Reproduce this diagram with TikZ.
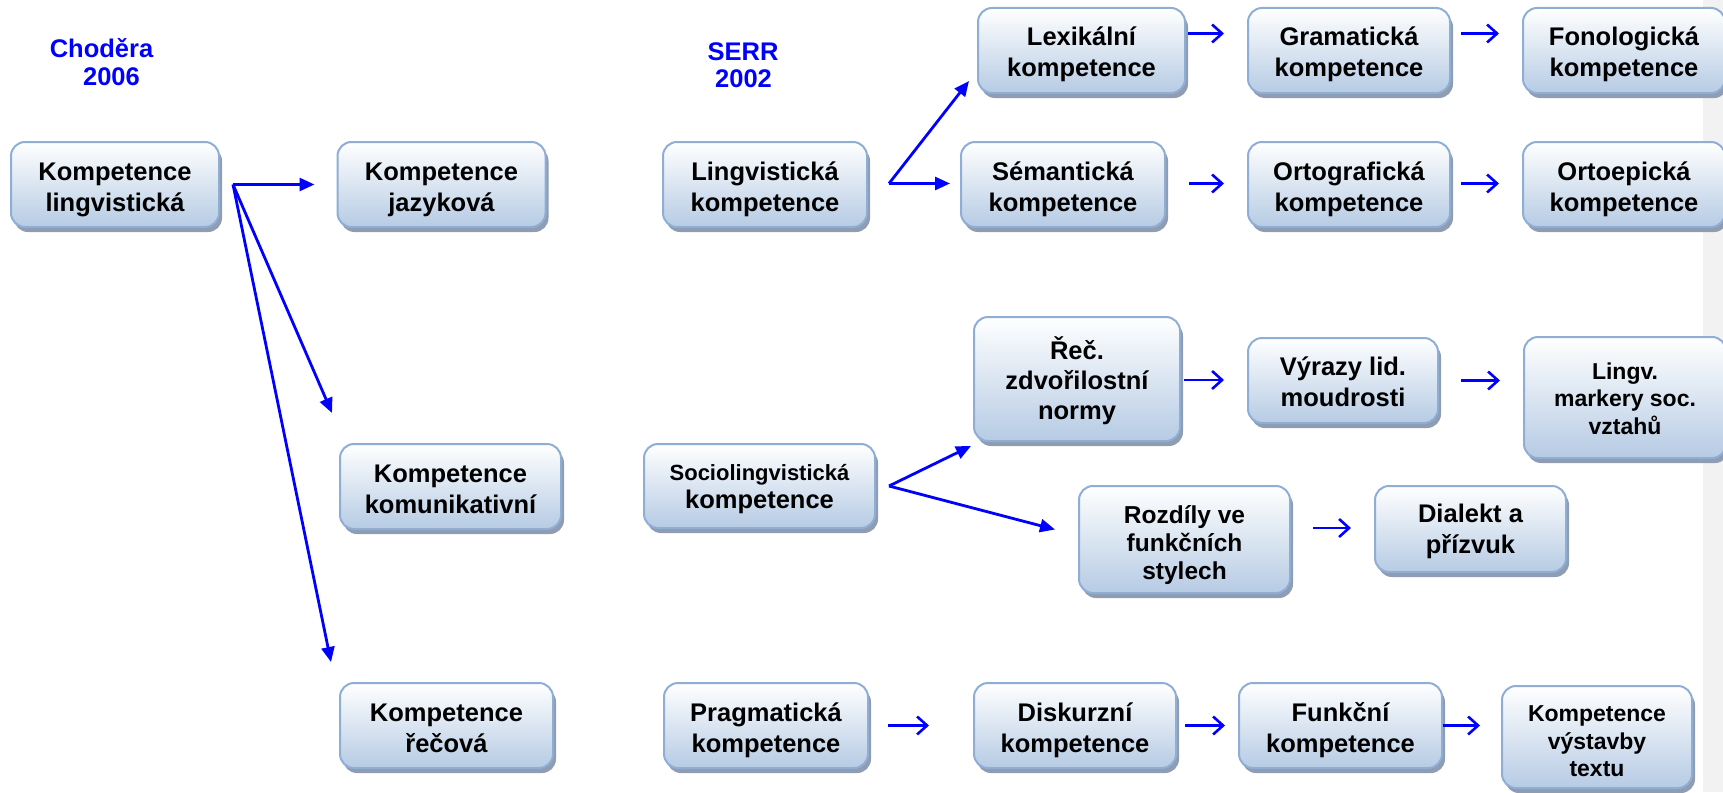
\documentclass[tikz,border=0pt]{standalone}
\usepackage{fontspec}
\setmainfont{Liberation Sans}
\usetikzlibrary{shadows,arrows.meta,calc}
\definecolor{boxedge}{HTML}{8EAED6}
\definecolor{boxfill}{HTML}{B6CBE4}
\definecolor{boxshade}{HTML}{8F9CB1}
\definecolor{arrowblue}{HTML}{0000FF}
\definecolor{stripgray}{HTML}{F2F2F2}

\begin{document}
\begin{tikzpicture}[x=1pt,y=-1pt,
  % text height/depth fixed so that every label sits at the same baseline offset
  box/.style={rectangle, rounded corners=14pt, draw=boxedge, line width=2pt,
    top color=white, bottom color=boxfill,
    drop shadow={shadow xshift=3pt, shadow yshift=-5pt, fill=boxshade, opacity=1},
    align=center, inner sep=0pt, text=black, text height=53pt, text depth=0pt,
    font=\fontsize{25.5}{31}\selectfont\bfseries},
  heading/.style={font=\fontsize{25.5}{31}\selectfont\bfseries, text=arrowblue,
    inner sep=0pt, anchor=base},
  branch/.style={draw=arrowblue, line width=2.8pt, -{Triangle[length=15pt,width=13pt]}},
  chain/.style={draw=arrowblue, line width=2.6pt, -{Straight Barb[length=10pt,width=18pt]}},
]
\useasboundingbox (0,0) rectangle (1723,792);
\fill[stripgray] (1703,0) rectangle (1723,792);

% column headings
\node[heading] (choA) at (101.5,57) {Choděra};
\node[heading] (choB) at (111.5,85) {2006};
\node[heading] (serrA) at (743,60) {SERR};
\node[heading] (serrB) at (743.5,87) {2002};

% Choděra 2006
\node[box, minimum width=208pt, minimum height=85pt] (A) at (115,184.5) {Kompetence\\lingvistická};
\node[box, minimum width=208pt, minimum height=85pt] (B) at (441.5,184.5) {Kompetence\\jazyková};
\node[box, minimum width=221pt, minimum height=85pt] (C) at (450.5,486.5) {Kompetence\\komunikativní};
\node[box, minimum width=213pt, minimum height=85pt] (D) at (446.5,725.5) {Kompetence\\řečová};

% SERR 2002: linguistic branch
\node[box, minimum width=204pt, minimum height=85pt] (E) at (765,184.5) {Lingvistická\\kompetence};
\node[box, minimum width=207pt, minimum height=85pt] (F) at (1081.5,50.5) {Lexikální\\kompetence};
\node[box, minimum width=202pt, minimum height=85pt] (G) at (1349,50.5) {Gramatická\\kompetence};
\node[box, minimum width=202pt, minimum height=85pt] (H) at (1624,50.5) {Fonologická\\kompetence};
\node[box, minimum width=204pt, minimum height=85pt] (I) at (1063,184.5) {Sémantická\\kompetence};
\node[box, minimum width=202pt, minimum height=85pt] (J) at (1349,184.5) {Ortografická\\kompetence};
\node[box, minimum width=202pt, minimum height=85pt] (K) at (1624,184.5) {Ortoepická\\kompetence};

% SERR 2002: sociolinguistic branch
\node[box, minimum width=231pt, minimum height=84pt, text height=44pt] (O) at (759.5,486)
  {{\fontsize{22}{22}\selectfont Sociolingvistická}\\[-3pt]kompetence};
\node[box, minimum width=206pt, minimum height=124pt, text height=80pt,
  font=\fontsize{25.5}{30}\selectfont\bfseries] (L) at (1077,379) {Řeč.\\zdvořilostní\\normy};
\node[box, minimum width=190pt, minimum height=85pt, text height=52pt] (M) at (1343,380.5) {Výrazy lid.\\moudrosti};
\node[box, minimum width=202pt, minimum height=121pt, text height=73pt,
  font=\fontsize{23}{27.5}\selectfont\bfseries] (N) at (1625,397.5) {Lingv.\\markery soc.\\vztahů};
\node[box, minimum width=211pt, minimum height=107pt, text height=79pt,
  font=\fontsize{24.5}{28}\selectfont\bfseries] (P) at (1184.5,539.5) {Rozdíly ve\\funkčních\\stylech};
\node[box, minimum width=191pt, minimum height=86pt, text height=49pt] (Q) at (1470.5,529) {Dialekt a\\přízvuk};

% SERR 2002: pragmatic branch
\node[box, minimum width=204pt, minimum height=85pt] (R) at (766,725.5) {Pragmatická\\kompetence};
\node[box, minimum width=202pt, minimum height=85pt] (S) at (1075,725.5) {Diskurzní\\kompetence};
\node[box, minimum width=203pt, minimum height=85pt] (T) at (1340.5,725.5) {Funkční\\kompetence};
\node[box, minimum width=190pt, minimum height=102pt, text height=79pt,
  font=\fontsize{23}{27.5}\selectfont\bfseries] (U) at (1597,737) {Kompetence\\výstavby\\textu};

% branching connectors
\draw[branch] ($(A.east)+(13,0)$) -- ($(B.west)+(-22,0)$);
\draw[branch] ($(A.east)+(13,0)$) -- ($(C.north west)+(-7,-30)$);
\draw[branch] ($(A.east)+(13,0)$) -- ($(D.north west)+(-8,-20)$);
\draw[branch] ($(E.east)+(21,-1)$) -- ($(F.south west)+(-8,-13)$);
\draw[branch] ($(E.east)+(21,-1)$) -- ($(I.west)+(-10,-1)$);
\draw[branch] ($(O.east)+(13,0)$) -- ($(L.south west)+(-2,4)$);
\draw[branch] ($(O.east)+(13,0)$) -- ($(P.west)+(-23,-10)$);

% chained connectors
\draw[chain] ($(F.east)+(2,-17)$) -- ($(G.west)+(-23,-17)$);
\draw[chain] ($(G.east)+(10,-17)$) -- ($(H.west)+(-23,-17)$);
\draw[chain] ($(I.east)+(23,-1)$) -- ($(J.west)+(-23,-1)$);
\draw[chain] ($(J.east)+(10,-1)$) -- ($(K.west)+(-23,-1)$);
\draw[chain] ($(L.east)+(3,1)$) -- ($(L.east -| M.west)+(-23,1)$);
\draw[chain] ($(M.east)+(22,0)$) -- ($(M.east -| N.west)+(-23,0)$);
\draw[chain] ($(Q.west -| P.east)+(22,-1)$) -- ($(Q.west)+(-23,-1)$);
\draw[chain] ($(R.east)+(19,0)$) -- ($(S.west)+(-44,0)$);
\draw[chain] ($(S.east)+(8,0)$) -- ($(T.west)+(-13,0)$);
\draw[chain] ($(T.east)+(0,0)$) -- ($(U.west |- T.east)+(-21,0)$);
\end{tikzpicture}
\end{document}
